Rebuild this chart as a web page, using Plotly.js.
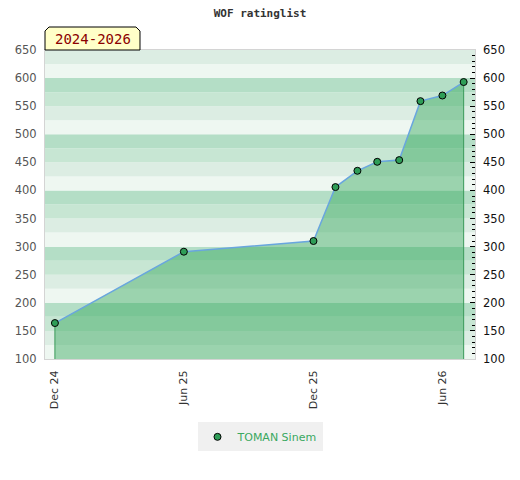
<!DOCTYPE html>
<html>
<head>
<meta charset="utf-8">
<script src="https://cdn.plot.ly/plotly-3.0.1.min.js"></script>
<style>html,body{margin:0;padding:0;background:#fff}#chart{width:520px;height:480px}</style>
</head>
<body>
<div id="chart"></div>
<script>
// Data
const dates = ["2024-12-01","2025-06-01","2025-12-01","2026-01-01","2026-02-01","2026-03-01","2026-04-01","2026-05-01","2026-06-01","2026-07-01"];
const ratings = [164, 291, 310, 406, 435, 451, 454, 559, 569, 593];
const seriesName = "TOMAN Sinem";
const chartTitle = "WOF ratinglist";
const periodLabel = "2024-2026";
const yMin = 100, yMax = 650;
const xRange = ["2024-11-17", "2026-07-17"];

// background stripes (decoration), 25-unit bands repeating every 100
const stripeColors = ["#eef7f1", "#dcede3", "#c7e6d3", "#b4dec6"];
const shapes = [];
for (let v = yMin; v < yMax; v += 25) {
  const idx = Math.round((v - yMin) / 25) % 4;
  shapes.push({type:'rect', xref:'paper', yref:'y', x0:0, x1:1, y0:v, y1:v+25,
    fillcolor: stripeColors[idx], line:{width:0}, layer:'below'});
}
// period label box with chamfered top corners
shapes.push({type:'path', xref:'paper', yref:'paper',
  path:'M 0,1 L 0,1.0615 L 0.0093,1.0744 L 0.2116,1.0744 L 0.2209,1.0615 L 0.2209,1 Z',
  fillcolor:'#ffffc8', line:{color:'#000', width:1}, layer:'above'});

const n = dates.length;
const traces = [
  { // filled area under the curve
    x: dates, y: ratings, type:'scatter', mode:'lines', fill:'tozeroy',
    fillcolor:'rgba(40,162,81,0.42)', line:{color:'#69a6de', width:1.5},
    showlegend:false, hoverinfo:'skip'
  },
  { // vertical edges of the filled area
    x: [dates[0], dates[0], null, dates[n-1], dates[n-1]],
    y: [yMin, ratings[0], null, yMin, ratings[n-1]],
    type:'scatter', mode:'lines', line:{color:'#3a9a5a', width:1},
    showlegend:false, hoverinfo:'skip'
  },
  { // markers
    x: dates, y: ratings, type:'scatter', mode:'markers', name: seriesName,
    marker:{color:'#2e9d57', size:7, line:{color:'#000', width:1}}
  },
  { // dummy for right axis
    x: [dates[0]], y: [ratings[0]], yaxis:'y2', type:'scatter', mode:'markers',
    marker:{opacity:0}, showlegend:false, hoverinfo:'skip'
  }
];

const layout = {
  width:520, height:480,
  margin:{l:45, r:45, t:50, b:121},
  paper_bgcolor:'#fff', plot_bgcolor:'#fff',
  title:{text:'<b>'+chartTitle+'</b>', x:0.5, xanchor:'center', y:0.972, yanchor:'middle',
    font:{family:'DejaVu Sans Mono', size:11, color:'#333'}},
  showlegend:true,
  legend:{orientation:'h', x:0.5, xanchor:'center', y:-0.205, yanchor:'top',
    bgcolor:'#f0f0f0', itemwidth:30, font:{family:'DejaVu Sans', size:11, color:'#3aa860'}},
  xaxis:{type:'date', range:xRange, tick0:'2024-12-01', dtick:'M6', tickformat:'%b %y',
    tickangle:-90, ticks:'', showgrid:false, zeroline:false,
    showline:true, linecolor:'#d4d4d4', linewidth:1, mirror:true,
    ticklabelstandoff:6,
    tickfont:{family:'DejaVu Sans', size:11, color:'#333'}},
  yaxis:{range:[yMin, yMax], dtick:50, tick0:0, showgrid:false, zeroline:false,
    showline:true, linecolor:'#d4d4d4', linewidth:1, mirror:true, ticks:'',
    ticklabelstandoff:5,
    tickfont:{family:'DejaVu Sans', size:11.5, color:'#555'}},
  yaxis2:{range:[yMin, yMax], overlaying:'y', side:'right', dtick:50, tick0:0,
    showgrid:false, zeroline:false, showline:false,
    ticks:'inside', ticklen:5, tickcolor:'#000', tickwidth:1,
    ticklabelstandoff:7,
    minor:{dtick:10, ticks:'inside', ticklen:3, tickcolor:'#000', showgrid:false},
    tickfont:{family:'DejaVu Sans', size:11.5, color:'#111'}},
  shapes: shapes,
  annotations:[{text:periodLabel, xref:'paper', yref:'paper', x:0.1105, y:1.037,
    xanchor:'center', yanchor:'middle', showarrow:false,
    font:{family:'DejaVu Sans Mono', size:14, color:'#8b0000'}}]
};

Plotly.newPlot('chart', traces, layout, {displayModeBar:false, staticPlot:true});
</script>
</body>
</html>
